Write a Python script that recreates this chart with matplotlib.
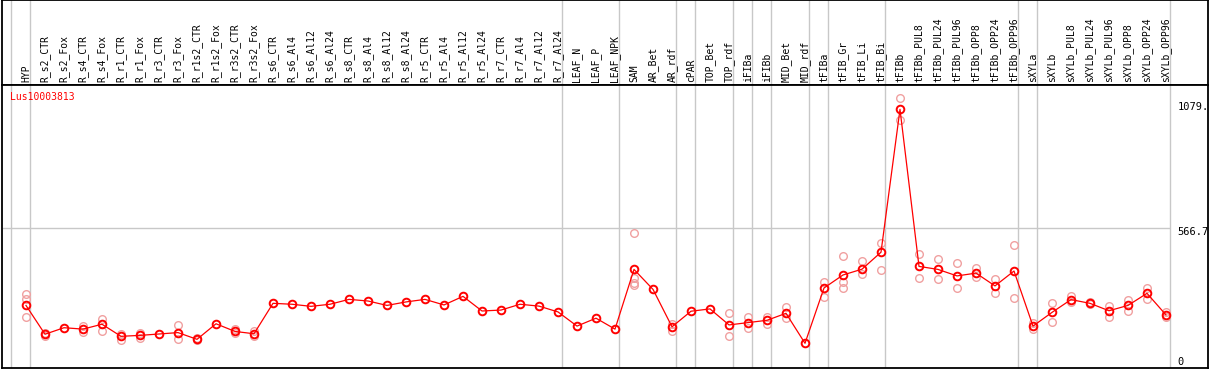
import numpy as np
import matplotlib
matplotlib.use("Agg")
from matplotlib import pyplot as plt

gene = "Lus10003813"

samples = ["HYP", "R_s2_CTR", "R_s2_Fox", "R_s4_CTR", "R_s4_Fox", "R_r1_CTR", "R_r1_Fox",
           "R_r3_CTR", "R_r3_Fox", "R_r1s2_CTR", "R_r1s2_Fox", "R_r3s2_CTR", "R_r3s2_Fox",
           "R_s6_CTR", "R_s6_Al4", "R_s6_Al12", "R_s6_Al24", "R_s8_CTR", "R_s8_Al4",
           "R_s8_Al12", "R_s8_Al24", "R_r5_CTR", "R_r5_Al4", "R_r5_Al12", "R_r5_Al24",
           "R_r7_CTR", "R_r7_Al4", "R_r7_Al12", "R_r7_Al24", "LEAF_N", "LEAF_P", "LEAF_NPK",
           "SAM", "AR_Bet", "AR_rdf", "cPAR", "TOP_Bet", "TOP_rdf", "iFIBa", "iFIBb",
           "MID_Bet", "MID_rdf", "tFIBa", "tFIB_Gr", "tFIB_Li", "tFIB_Bi", "tFIBb",
           "tFIBb_PUL8", "tFIBb_PUL24", "tFIBb_PUL96", "tFIBb_OPP8", "tFIBb_OPP24",
           "tFIBb_OPP96", "sXYLa", "sXYLb", "sXYLb_PUL8", "sXYLb_PUL24", "sXYLb_PUL96",
           "sXYLb_OPP8", "sXYLb_OPP24", "sXYLb_OPP96"]

means = [235, 111, 139, 133, 154, 102, 106, 112, 118, 89, 156, 123, 113,
         244, 240, 231, 240, 261, 254, 235, 250, 261, 237, 274, 211, 215, 240, 232, 207,
         146, 180, 133, 390, 304, 143, 210, 220, 151, 161, 171, 201, 72,
         310, 366, 391, 464, 1079, 403, 390, 362, 374, 319, 383,
         146, 205, 260, 244, 212, 235, 287, 194]

reps = [[284, 261, 186], [117, 103], [], [146, 122], [178, 126], [113, 86], [117, 96],
        [], [149, 89], [93, 85], [], [132, 115], [126, 103],
        [], [], [], [], [], [], [], [], [], [], [], [], [], [], [], [],
        [], [], [], [547, 352, 333, 323], [], [155, 126], [], [], [201, 103],
        [186, 139], [184, 154], [227, 179], [], [334, 270], [448, 337, 309],
        [426, 370], [502, 386], [1126, 1033], [456, 352], [433, 347], [416, 309],
        [397, 356], [349, 287], [495, 266], [161, 132], [244, 162], [276, 251],
        [250, 240], [232, 186], [258, 212], [310, 261], [205, 186]]

# group separators (after these sample indices)
groups_end = [-1, 0, 28, 31, 34, 35, 37, 38, 39, 41, 42, 45, 52, 53, 60]

tick_vals = [1079, 566.7, 0]
tick_text = ["1079.", "566.7", "0"]

W, H = 1209, 370
fig = plt.figure(figsize=(W / 100, H / 100), dpi=100)
x0, x1 = 1.5, 1207.5
head = fig.add_axes([x0 / W, (H - 85) / H, (x1 - x0) / W, 85 / H])
ax = fig.add_axes([x0 / W, 2 / H, (x1 - x0) / W, 283 / H])

xl = ((x0 - 26) / 19, (x1 - 26) / 19)
for a in (head, ax):
    a.set_xlim(*xl)
    a.set_xticks([])
    a.set_yticks([])
    for s in a.spines.values():
        s.set_linewidth(1.3)
        s.set_color("black")
    for g in groups_end:
        a.axvline(g + 0.2, color="#c8c8c8", lw=1.0, zorder=0)

head.set_ylim(0, 1)
for i, name in enumerate(samples):
    head.text(i, 0.035, name, rotation=90, ha="center", va="bottom",
              family="DejaVu Sans Mono", fontsize=7, color="black")

ax.set_ylim(-34.4, 1183.8)
ax.hlines(566.7, xl[0], groups_end[-1] + 0.2, color="#c8c8c8", lw=1.0, zorder=0)

x = np.arange(len(samples))
for i, r in enumerate(reps):
    if r:
        ax.plot([i] * len(r), r, "o", ms=5.5, mfc="none", mec="#f0a0a0", mew=1.0, zorder=2)
ax.plot(x, means, "-", color="red", lw=0.9, zorder=3)
ax.plot(x, means, "o", ms=5.5, mfc="none", mec="red", mew=1.4, zorder=4)

ax.text(-0.85, 1132, gene, color="red", family="DejaVu Sans Mono", fontsize=7,
        ha="left", va="center")
for v, t, dy in zip(tick_vals, tick_text, [1.5, -2.5, -1.2]):
    ax.annotate(t, (60.6, v), xytext=(0, dy), textcoords="offset points",
                family="DejaVu Sans Mono", fontsize=7.5, ha="left", va="center")

fig.savefig("out.png", dpi=100)
